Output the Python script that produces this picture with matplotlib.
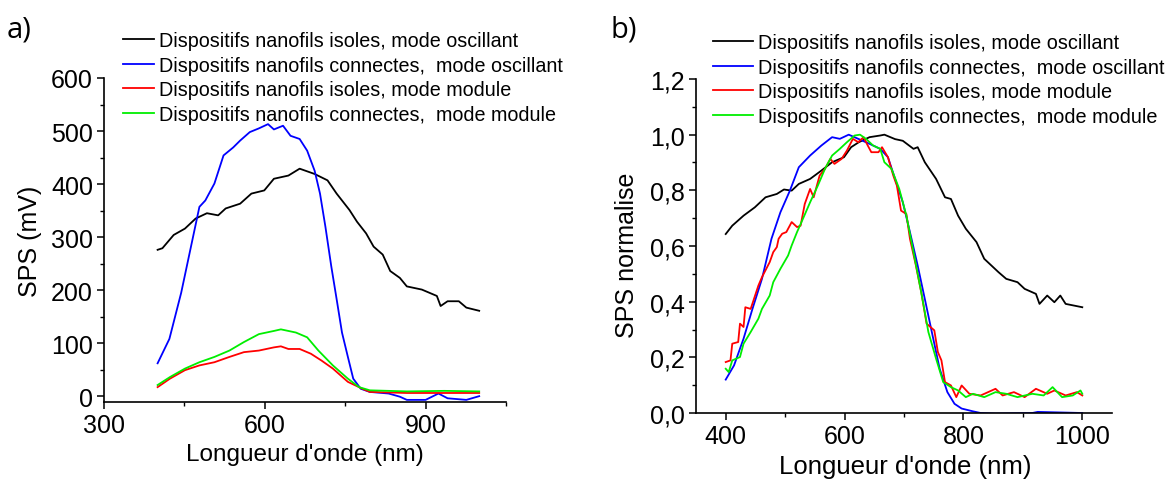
import numpy as np
import matplotlib
matplotlib.use('Agg')
import matplotlib.pyplot as plt
from matplotlib.ticker import MultipleLocator, FuncFormatter

plt.rcParams['font.family'] = ['Liberation Sans', 'DejaVu Sans']

LABELS = ('Dispositifs nanofils isoles, mode oscillant',
          'Dispositifs nanofils connectes,  mode oscillant',
          'Dispositifs nanofils isoles, mode module',
          'Dispositifs nanofils connectes,  mode module')
COLORS = ('#000000', '#0000ff', '#ff0000', '#00ee00')

# panel a) : SPS (mV)
a_iso_osc_x = [400, 409, 430, 451, 471, 492, 513, 527, 554, 575, 599, 617, 644, 665, 693, 717,
               734, 758, 772, 789, 803, 820, 834, 852, 865, 893, 921, 928, 941, 962, 976, 1000]
a_iso_osc_y = [276, 279, 304, 316, 335, 345, 341, 354, 363, 382, 388, 410, 416, 429, 419, 407,
               382, 351, 329, 307, 282, 267, 236, 223, 207, 201, 189, 170, 179, 179, 167, 161]

a_con_osc_x = [400, 422, 444, 461, 478, 489, 506, 523, 541, 554, 572, 589, 606, 617, 634, 648,
               665, 679, 693, 703, 713, 724, 734, 744, 755, 765, 779, 796, 831, 852, 865, 900,
               924, 941, 976, 1000]
a_con_osc_y = [62, 108, 195, 276, 357, 369, 401, 454, 469, 482, 498, 505, 513, 503, 510, 491,
               485, 463, 425, 382, 320, 245, 183, 120, 74, 33, 14, 8, 5, -1, -7, -7,
               5, -4, -7, 0]

a_iso_mod_x = [400, 423, 451, 478, 506, 534, 561, 589, 617, 630, 644, 665, 686, 706, 727, 755,
               782, 796, 865, 935, 1000]
a_iso_mod_y = [17, 33, 49, 58, 64, 74, 83, 86, 92, 94, 89, 89, 80, 67, 52, 27,
               14, 8, 6, 6, 6]

a_con_mod_x = [400, 423, 451, 478, 506, 534, 561, 589, 617, 630, 658, 679, 700, 727, 755, 776,
               796, 865, 935, 1000]
a_con_mod_y = [21, 36, 52, 64, 74, 86, 102, 117, 123, 126, 120, 111, 86, 58, 33, 17,
               11, 9, 10, 9]

# panel b) : normalised SPS
b_iso_osc_x = [400, 411, 430, 449, 467, 486, 498, 511, 523, 542, 561, 579, 599, 611, 624, 642,
               660, 667, 685, 698, 716, 723, 735, 754, 769, 779, 791, 804, 822, 835, 847, 859,
               872, 891, 903, 922, 928, 941, 953, 963, 972, 1000]
b_iso_osc_y = [0.643, 0.673, 0.709, 0.739, 0.775, 0.787, 0.803, 0.799, 0.823, 0.841, 0.871,
               0.901, 0.919, 0.955, 0.973, 0.991, 0.997, 1.0, 0.984, 0.978, 0.949, 0.955,
               0.901, 0.841, 0.775, 0.769, 0.709, 0.662, 0.614, 0.554, 0.530, 0.506, 0.482,
               0.470, 0.446, 0.428, 0.392, 0.422, 0.398, 0.422, 0.392, 0.380]

b_con_osc_x = [400, 414, 430, 445, 461, 477, 492, 508, 523, 542, 561, 579, 592, 607, 623, 642,
               660, 673, 685, 698, 710, 723, 735, 748, 760, 773, 785, 797, 816, 829, 854, 916,
               925, 1000]
b_con_osc_y = [0.120, 0.171, 0.267, 0.374, 0.482, 0.626, 0.721, 0.799, 0.883, 0.925, 0.961,
               0.991, 0.985, 1.0, 0.985, 0.967, 0.949, 0.919, 0.841, 0.757, 0.650, 0.530,
               0.410, 0.279, 0.159, 0.075, 0.033, 0.016, 0.006, 0.0, -0.002, 0.0, 0.004, 0.0]

b_iso_mod_x = [400, 408, 411, 421, 424, 430, 433, 442, 455, 461, 474, 480, 486, 489, 495, 502,
               511, 520, 526, 533, 542, 548, 558, 567, 576, 583, 595, 604, 614, 623, 632, 639,
               645, 657, 663, 673, 682, 688, 695, 704, 710, 720, 729, 738, 751, 757, 763, 769,
               779, 788, 797, 810, 829, 854, 866, 885, 903, 922, 941, 953, 972, 991, 1000]
b_iso_mod_y = [0.183, 0.189, 0.249, 0.255, 0.321, 0.309, 0.380, 0.374, 0.458, 0.488, 0.542,
               0.578, 0.596, 0.626, 0.644, 0.650, 0.686, 0.668, 0.673, 0.751, 0.805, 0.775,
               0.853, 0.877, 0.913, 0.895, 0.913, 0.943, 0.985, 0.973, 0.991, 0.961, 0.937,
               0.937, 0.955, 0.919, 0.853, 0.817, 0.727, 0.715, 0.626, 0.530, 0.434, 0.321,
               0.297, 0.219, 0.189, 0.111, 0.099, 0.057, 0.099, 0.069, 0.063, 0.087, 0.063,
               0.075, 0.057, 0.087, 0.069, 0.081, 0.063, 0.075, 0.063]

b_con_mod_x = [400, 405, 411, 424, 430, 442, 455, 461, 474, 480, 492, 505, 511, 520, 530, 542,
               555, 567, 579, 592, 604, 617, 626, 636, 648, 660, 667, 679, 692, 704, 716, 729,
               741, 754, 766, 779, 791, 804, 816, 835, 854, 872, 891, 916, 935, 950, 966, 984,
               997, 1000]
b_con_mod_y = [0.159, 0.147, 0.189, 0.201, 0.249, 0.291, 0.339, 0.374, 0.422, 0.470, 0.518,
               0.566, 0.602, 0.650, 0.698, 0.757, 0.817, 0.877, 0.925, 0.949, 0.973, 0.997,
               1.0, 0.985, 0.961, 0.949, 0.901, 0.877, 0.805, 0.709, 0.578, 0.434, 0.291,
               0.195, 0.111, 0.093, 0.081, 0.057, 0.069, 0.057, 0.075, 0.069, 0.057, 0.069,
               0.063, 0.093, 0.057, 0.063, 0.081, 0.069]


def style_axis(ax):
    for s in ('top', 'right'):
        ax.spines[s].set_visible(False)
    for s in ('left', 'bottom'):
        ax.spines[s].set_linewidth(1.2)
    ax.tick_params(which='major', direction='out', length=5, width=1.1, labelsize=18, pad=3)
    ax.tick_params(which='minor', direction='out', length=3, width=1.0)


fig = plt.figure(figsize=(11.69, 4.81), dpi=100)

ax1 = fig.add_axes([104 / 1169, 1 - 403 / 481, 402 / 1169, 324 / 481])
series_a = [(a_iso_osc_x, a_iso_osc_y), (a_con_osc_x, a_con_osc_y),
            (a_iso_mod_x, a_iso_mod_y), (a_con_mod_x, a_con_mod_y)]
for (x, y), c, lab in zip(series_a, COLORS, LABELS):
    ax1.plot(x, y, color=c, lw=1.3, label=lab)
ax1.set_xlim(300, 1050)
ax1.set_ylim(-11, 600)
ax1.xaxis.set_major_locator(MultipleLocator(300))
ax1.xaxis.set_minor_locator(MultipleLocator(150))
ax1.yaxis.set_major_locator(MultipleLocator(100))
ax1.yaxis.set_minor_locator(MultipleLocator(50))
style_axis(ax1)
ax1.set_xlabel("Longueur d'onde (nm)", fontsize=17.5, va='center')
ax1.xaxis.set_label_coords(0.5, -0.16)
ax1.set_ylabel('SPS (mV)', fontsize=18, va='center')
ax1.yaxis.set_label_coords(-0.184, 0.5)
ax1.legend(loc='upper left', bbox_to_anchor=(123 / 1169, 1 - 32 / 481),
           bbox_transform=fig.transFigure, frameon=False, fontsize=14.2,
           handlelength=1.55, handletextpad=0.27, labelspacing=0.28, borderpad=0, borderaxespad=0)

ax2 = fig.add_axes([696 / 1169, 1 - 414 / 481, 416 / 1169, 334 / 481])
series_b = [(b_iso_osc_x, b_iso_osc_y), (b_con_osc_x, b_con_osc_y),
            (b_iso_mod_x, b_iso_mod_y), (b_con_mod_x, b_con_mod_y)]
for (x, y), c, lab in zip(series_b, COLORS, LABELS):
    ax2.plot(x, y, color=c, lw=1.3, label=lab)
ax2.set_xlim(350, 1050)
ax2.set_ylim(0, 1.2)
ax2.xaxis.set_major_locator(MultipleLocator(200))
ax2.xaxis.set_minor_locator(MultipleLocator(100))
ax2.yaxis.set_major_locator(MultipleLocator(0.2))
ax2.yaxis.set_minor_locator(MultipleLocator(0.1))
ax2.yaxis.set_major_formatter(FuncFormatter(lambda v, p: ('%.1f' % v).replace('.', ',')))
style_axis(ax2)
ax2.set_xlabel("Longueur d'onde (nm)", fontsize=18.5, va='center')
ax2.xaxis.set_label_coords(0.502, -0.158)
ax2.set_ylabel('SPS normalise', fontsize=18, va='center')
ax2.yaxis.set_label_coords(-0.166, 0.476)
ax2.legend(loc='upper left', bbox_to_anchor=(713 / 1169, 1 - 34 / 481),
           bbox_transform=fig.transFigure, frameon=False, fontsize=14.3,
           handlelength=2.0, handletextpad=0.27, labelspacing=0.28, borderpad=0, borderaxespad=0)

fig.text(7 / 1169, 1 - 30 / 481, 'a)', fontsize=21, va='center', ha='left',
         family=['Open Sans', 'DejaVu Sans'])
fig.text(611 / 1169, 1 - 30 / 481, 'b)', fontsize=21, va='center', ha='left',
         family=['Open Sans', 'DejaVu Sans'])

fig.savefig('out.png', dpi=100)
